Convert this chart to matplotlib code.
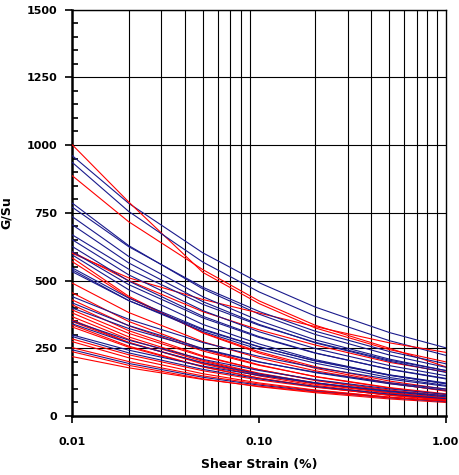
import matplotlib
matplotlib.use("Agg")
import matplotlib.pyplot as plt
from matplotlib.ticker import FixedLocator, NullLocator, MultipleLocator

# strain points (%) where G/Su was read
strain = [0.01, 0.02, 0.05, 0.1, 0.2, 0.5, 1.0]

# blue curves
blue = [
    [960, 785, 602, 492, 402, 308, 252],
    [935, 755, 568, 458, 369, 278, 224],
    [785, 629, 469, 376, 301, 225, 180],
    [770, 625, 475, 386, 313, 238, 193],
    [735, 589, 440, 352, 281, 210, 168],
    [705, 565, 422, 338, 270, 202, 161],
    [668, 542, 412, 335, 272, 206, 168],
    [650, 521, 389, 311, 249, 186, 149],
    [625, 498, 368, 293, 233, 172, 137],
    [606, 485, 362, 290, 232, 173, 139],
    [594, 466, 338, 266, 208, 151, 119],
    [546, 435, 321, 256, 203, 150, 120],
    [539, 426, 312, 246, 195, 142, 113],
    [532, 426, 318, 255, 204, 152, 122],
    [440, 357, 271, 220, 179, 136, 110],
    [417, 334, 249, 200, 160, 119, 95],
    [398, 323, 246, 199, 162, 123, 100],
    [350, 280, 209, 168, 134, 100, 80],
    [340, 269, 197, 155, 123, 90, 71],
    [299, 243, 184, 150, 122, 92, 75],
    [293, 233, 172, 137, 109, 81, 64],
    [244, 194, 143, 114, 91, 67, 53],
]

# red curves
red = [
    [1000, 790, 530, 415, 325, 245, 200],
    [886, 717, 540, 425, 335, 250, 182],
    [600, 510, 430, 380, 330, 270, 235],
    [605, 500, 385, 318, 262, 198, 163],
    [583, 442, 306, 232, 176, 122, 92],
    [569, 437, 308, 237, 182, 129, 99],
    [490, 382, 274, 214, 167, 120, 94],
    [454, 349, 246, 189, 145, 103, 79],
    [428, 333, 240, 187, 146, 105, 82],
    [410, 315, 222, 171, 131, 93, 71],
    [391, 305, 219, 171, 133, 96, 75],
    [380, 292, 206, 158, 122, 86, 66],
    [366, 283, 202, 156, 121, 86, 67],
    [354, 272, 192, 148, 113, 80, 62],
    [348, 271, 195, 152, 118, 85, 66],
    [336, 258, 182, 140, 108, 76, 58],
    [328, 254, 181, 140, 108, 77, 60],
    [284, 226, 167, 133, 106, 78, 62],
    [274, 215, 156, 122, 96, 70, 55],
    [252, 201, 148, 118, 94, 69, 55],
    [237, 187, 137, 108, 86, 63, 50],
    [219, 178, 135, 110, 89, 68, 55],
]

x_ticks = [0.01, 0.1, 1.0]
x_labels = ["0.01", "0.10", "1.00"]
y_ticks = [0, 250, 500, 750, 1000, 1250, 1500]

plt.rcParams['font.family'] = ['DejaVu Sans']

fig = plt.figure(figsize=(4.6, 4.75), dpi=100)
ax = fig.add_axes([0.1576, 0.1242, 0.8109, 0.8558])

# blue and red drawn alternately so neither hides the other completely
n = max(len(blue), len(red))
for i in range(n):
    if i < len(blue):
        ax.plot(strain, blue[i], color='#1a1a8c', lw=0.8, zorder=3)
    if i < len(red):
        ax.plot(strain, red[i], color='#ff0000', lw=0.8, zorder=3)

ax.set_xscale('log')
ax.set_xlim(0.01, 1.0)
ax.set_ylim(0, 1500)

# vertical grid at every minor log position, horizontal at 250s
minor_x = [k * 0.01 for k in range(2, 10)] + [k * 0.1 for k in range(2, 10)]
for xv in minor_x:
    ax.axvline(xv, color='black', lw=0.8, zorder=1)
for yv in y_ticks[1:]:
    ax.axhline(yv, color='black', lw=0.8, zorder=1)

ax.xaxis.set_major_locator(FixedLocator(x_ticks))
ax.xaxis.set_minor_locator(NullLocator())
ax.set_xticklabels(x_labels)
ax.set_yticks(y_ticks)
ax.yaxis.set_minor_locator(MultipleLocator(50))

ax.tick_params(axis='x', which='major', direction='out', length=5, width=1.2,
               pad=10, labelsize=8)
ax.tick_params(axis='y', which='major', direction='out', length=5, width=1.2,
               pad=6, labelsize=8)
ax.tick_params(axis='y', which='minor', direction='in', length=4, width=1.2)
for lab in ax.get_xticklabels() + ax.get_yticklabels():
    lab.set_fontweight('bold')

for side in ['left', 'bottom']:
    ax.spines[side].set_linewidth(1.8)
for side in ['top', 'right']:
    ax.spines[side].set_linewidth(1.0)

ax.set_xlabel('Shear Strain (%)', fontsize=9, fontweight='bold', labelpad=8)
ax.set_ylabel('G/Su', fontsize=9, fontweight='bold', labelpad=10)

fig.savefig('out.png', dpi=100)
